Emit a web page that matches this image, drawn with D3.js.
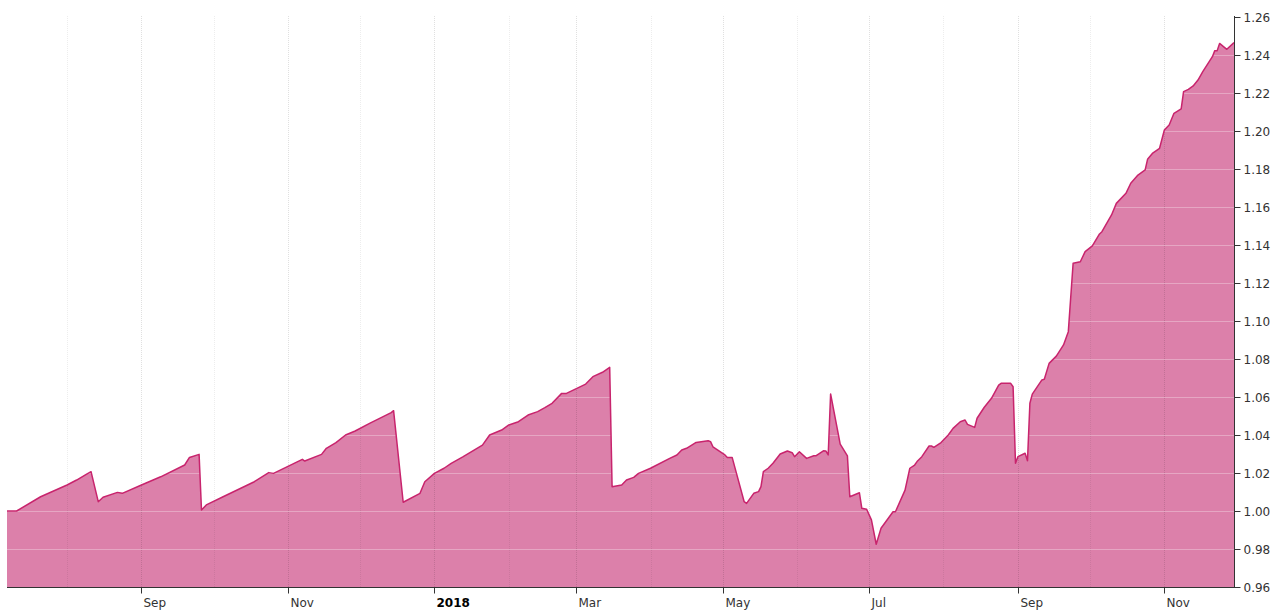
<!DOCTYPE html>
<html>
<head>
<meta charset="utf-8">
<script src="https://cdn.jsdelivr.net/npm/d3@7"></script>
<style>
  body { margin: 0; background: #fff; }
  text { font-family: "DejaVu Sans", Verdana, sans-serif; }
</style>
</head>
<body>
<div id="chart"></div>
<script>
// series
var dates = [
  "2017-07-07","2017-07-11","2017-07-21","2017-08-01","2017-08-05","2017-08-09","2017-08-11","2017-08-14",
  "2017-08-16","2017-08-22","2017-08-24","2017-09-01","2017-09-09","2017-09-19","2017-09-21","2017-09-25",
  "2017-09-26","2017-09-28","2017-10-05","2017-10-18","2017-10-24","2017-10-26","2017-11-07","2017-11-08",
  "2017-11-15","2017-11-17","2017-11-21","2017-11-25","2017-11-29","2017-12-05","2017-12-14","2017-12-15",
  "2017-12-19","2017-12-26","2017-12-28","2018-01-01","2018-01-05","2018-01-08","2018-01-13","2018-01-21",
  "2018-01-24","2018-01-29","2018-02-01","2018-02-05","2018-02-09","2018-02-13","2018-02-16","2018-02-19",
  "2018-02-23","2018-02-25","2018-03-05","2018-03-08","2018-03-12","2018-03-15","2018-03-16","2018-03-20",
  "2018-03-22","2018-03-25","2018-03-27","2018-04-01","2018-04-09","2018-04-12","2018-04-14","2018-04-16",
  "2018-04-20","2018-04-25","2018-04-26","2018-04-27","2018-05-02","2018-05-03","2018-05-05","2018-05-07",
  "2018-05-10","2018-05-11","2018-05-14","2018-05-16","2018-05-17","2018-05-18","2018-05-20","2018-05-22",
  "2018-05-25","2018-05-28","2018-05-30","2018-05-31","2018-06-02","2018-06-05","2018-06-08","2018-06-09",
  "2018-06-12","2018-06-13","2018-06-14","2018-06-15","2018-06-19","2018-06-22","2018-06-23","2018-06-27",
  "2018-06-28","2018-06-30","2018-07-02","2018-07-04","2018-07-06","2018-07-11","2018-07-12","2018-07-16",
  "2018-07-18","2018-07-20","2018-07-21","2018-07-23","2018-07-26","2018-07-27","2018-07-28","2018-07-31",
  "2018-08-03","2018-08-05","2018-08-08","2018-08-10","2018-08-11","2018-08-14","2018-08-15","2018-08-18",
  "2018-08-21","2018-08-24","2018-08-25","2018-08-29","2018-08-30","2018-08-31","2018-09-01","2018-09-04",
  "2018-09-05","2018-09-06","2018-09-07","2018-09-11","2018-09-12","2018-09-14","2018-09-17","2018-09-20",
  "2018-09-22","2018-09-24","2018-09-27","2018-09-29","2018-10-02","2018-10-05","2018-10-06","2018-10-10",
  "2018-10-12","2018-10-16","2018-10-18","2018-10-21","2018-10-24","2018-10-25","2018-10-27","2018-10-30",
  "2018-11-01","2018-11-03","2018-11-05","2018-11-08","2018-11-09","2018-11-11","2018-11-13","2018-11-15",
  "2018-11-17","2018-11-21","2018-11-22","2018-11-23","2018-11-24","2018-11-27","2018-11-30"
];
var values = [
  1.000,1.000,1.0075,1.0137,1.0163,1.0193,1.0207,1.0049,
  1.0072,1.0098,1.0093,1.0137,1.018,1.0242,1.0282,1.0298,
  1.0005,1.0032,1.0075,1.0154,1.0202,1.0198,1.0272,1.0263,
  1.0298,1.033,1.036,1.040,1.0421,1.0461,1.0518,1.0528,
  1.0046,1.0093,1.0154,1.0198,1.0225,1.0251,1.0286,1.0347,
  1.040,1.0426,1.0453,1.047,1.0505,1.0523,1.0544,1.0567,
  1.0619,1.0619,1.0668,1.0707,1.073,1.0756,1.0128,1.0137,
  1.0163,1.0177,1.0198,1.0225,1.0277,1.0295,1.0321,1.033,
  1.0361,1.037,1.0365,1.0338,1.0295,1.0282,1.0282,1.0189,
  1.0049,1.004,1.0093,1.0102,1.0128,1.0207,1.0225,1.0251,
  1.030,1.0316,1.0307,1.0286,1.0312,1.0277,1.0291,1.0291,
  1.0317,1.0316,1.0295,1.0616,1.0352,1.029,1.0075,1.0096,
  1.0014,1.0009,0.9953,0.9825,0.9909,0.9996,0.9996,1.011,
  1.0225,1.0242,1.026,1.0286,1.0342,1.0342,1.0335,1.036,
  1.040,1.0435,1.047,1.0479,1.0456,1.044,1.0488,1.0546,
  1.0593,1.0663,1.0672,1.0672,1.0654,1.0251,1.0286,1.0304,
  1.0265,1.0567,1.0615,1.069,1.0693,1.0777,1.0815,1.0874,
  1.0944,1.1304,1.1312,1.1365,1.1395,1.1458,1.147,1.1558,
  1.1619,1.1672,1.1725,1.1768,1.1795,1.1851,1.1882,1.1909,
  1.2005,1.2032,1.2093,1.2116,1.2207,1.2219,1.2237,1.2268,
  1.2312,1.2391,1.2423,1.2423,1.2461,1.243,1.2465
];
var xDomain = ["2017-07-07", "2018-11-30"];
var yTicks = [0.96, 0.98, 1.00, 1.02, 1.04, 1.06, 1.08, 1.10, 1.12, 1.14, 1.16, 1.18, 1.20, 1.22, 1.24, 1.26];
var xTickDates = ["2017-09-01","2017-11-01","2018-01-01","2018-03-01","2018-05-01","2018-07-01","2018-09-01","2018-11-01"];
var xTickLabels = ["Sep","Nov","2018","Mar","May","Jul","Sep","Nov"];

var svgWidth = 1280;
var svgHeight = 612;
var plotLeft = 7, plotRight = 1234, plotTop = 17, plotBottom = 587;

var parse = d3.timeParse("%Y-%m-%d");
var data = dates.map(function(d, i) { return { date: parse(d), value: values[i] }; });

var svg = d3.select("#chart")
  .append("svg")
  .attr("width", svgWidth)
  .attr("height", svgHeight);

var chartGroup = svg.append("g");

var x = d3.scaleTime()
  .domain(xDomain.map(parse))
  .range([plotLeft, plotRight]);

var y = d3.scaleLinear()
  .domain([0.96, 1.26])
  .range([plotBottom, plotTop]);

// area + line
var area = d3.area()
  .x(d => x(d.date))
  .y0(plotBottom)
  .y1(d => y(d.value));

var line = d3.line()
  .x(d => x(d.date))
  .y(d => y(d.value));

chartGroup.append("path")
  .datum(data)
  .attr("d", area)
  .attr("fill", "#dc80aa");

// horizontal grid (white, shows over the fill only)
chartGroup.append("g")
  .selectAll("line")
  .data(yTicks.slice(1))
  .enter()
  .append("line")
  .attr("x1", plotLeft)
  .attr("x2", plotRight)
  .attr("y1", d => Math.round(y(d)) + 0.5)
  .attr("y2", d => Math.round(y(d)) + 0.5)
  .attr("stroke", "#fff")
  .attr("stroke-opacity", 0.3);

// monthly vertical grid, dotted
var months = d3.timeMonth.range(x.domain()[0], x.domain()[1]);
var majorSet = xTickDates.map(function(d) { return parse(d).getTime(); });
chartGroup.append("g")
  .selectAll("line")
  .data(months)
  .enter()
  .append("line")
  .attr("x1", d => Math.round(x(d)) + 0.5)
  .attr("x2", d => Math.round(x(d)) + 0.5)
  .attr("y1", plotTop - 1)
  .attr("y2", plotBottom)
  .attr("stroke", "#000")
  .attr("stroke-opacity", d => majorSet.indexOf(d.getTime()) >= 0 ? 0.12 : 0.07)
  .attr("stroke-dasharray", "1,1");

chartGroup.append("path")
  .datum(data)
  .attr("d", line)
  .attr("fill", "none")
  .attr("stroke", "#c8246d")
  .attr("stroke-width", 1.5)
  .attr("stroke-linejoin", "round");

// bottom axis
var xAxis = chartGroup.append("g")
  .attr("transform", `translate(0, ${plotBottom + 0.5})`);

xAxis.append("line")
  .attr("x1", plotLeft)
  .attr("x2", plotRight)
  .attr("stroke", "#333");

var xTick = xAxis.selectAll(".xtick")
  .data(xTickDates)
  .enter()
  .append("g")
  .attr("class", "xtick")
  .attr("transform", d => `translate(${Math.round(x(parse(d))) + 0.5}, 0)`);

xTick.append("line")
  .attr("y2", 6)
  .attr("stroke", "#333");

xTick.append("text")
  .attr("x", 2)
  .attr("y", 19)
  .attr("font-size", 12)
  .attr("font-weight", (d, i) => xTickLabels[i] === "2018" ? "bold" : "normal")
  .style("fill", (d, i) => xTickLabels[i] === "2018" ? "#000" : "#333")
  .text((d, i) => xTickLabels[i]);

// right axis
var yAxis = chartGroup.append("g")
  .attr("transform", `translate(${plotRight + 0.5}, 0)`);

yAxis.append("line")
  .attr("y1", plotTop - 1)
  .attr("y2", plotBottom + 1)
  .attr("stroke", "#333");

var yTick = yAxis.selectAll(".ytick")
  .data(yTicks)
  .enter()
  .append("g")
  .attr("class", "ytick")
  .attr("transform", d => `translate(0, ${Math.round(y(d)) + 0.5})`);

yTick.append("line")
  .attr("x2", 6)
  .attr("stroke", "#333");

yTick.append("text")
  .attr("x", 9)
  .attr("dy", "0.35em")
  .attr("font-size", 12)
  .attr("fill", "#333")
  .text(d => d.toFixed(2));
</script>
</body>
</html>
